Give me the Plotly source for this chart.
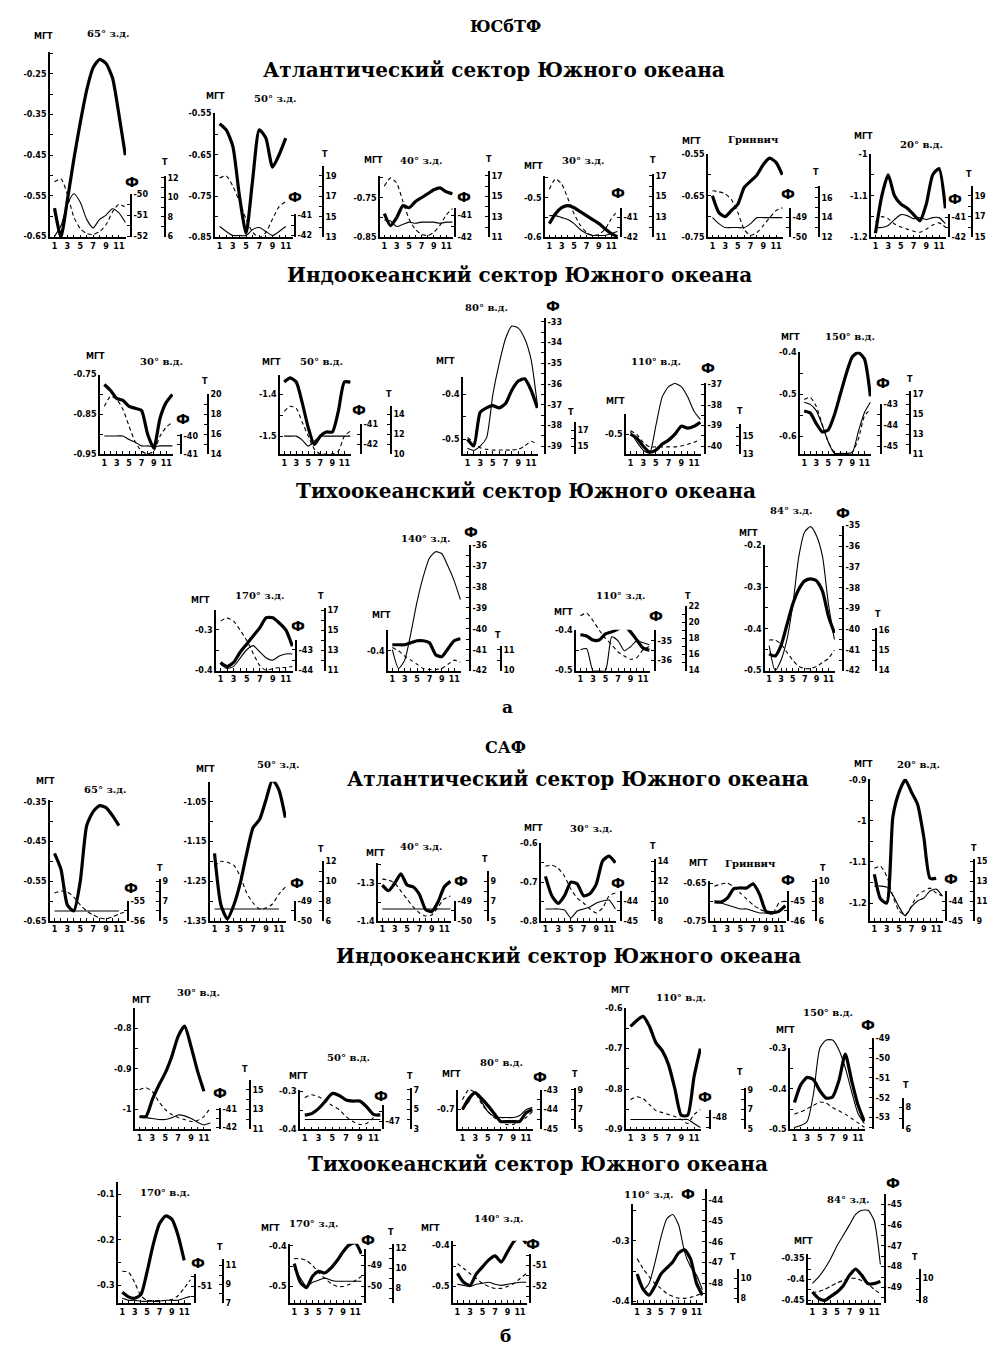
import plotly.graph_objects as go

W, H = 995, 1346
MONTHS = list(range(1, 13))
MONTH_TICKTEXT = ["1", "", "3", "", "5", "", "7", "", "9", "", "11", ""]

# ================= а : ЮСбТФ =================
ATL_A_TITLES = ["65° з.д.", "50° з.д.", "40° з.д.", "30° з.д.", "Гринвич", "20° в.д."]
ATL_A_MGT = [
    [-0.58, -0.65, -0.56, -0.46, -0.37, -0.29, -0.235, -0.215, -0.225, -0.26, -0.35, -0.45],
    [-0.575, -0.59, -0.63, -0.75, -0.84, -0.71, -0.59, -0.61, -0.68, -0.65, -0.61, None],
    [-0.79, -0.82, -0.80, -0.77, -0.775, -0.76, -0.75, -0.74, -0.73, -0.725, -0.735, -0.74],
    [-0.565, -0.54, -0.525, -0.52, -0.525, -0.535, -0.545, -0.555, -0.565, -0.578, -0.59, -0.598],
    [-0.65, -0.69, -0.70, -0.685, -0.67, -0.63, -0.615, -0.60, -0.575, -0.56, -0.57, -0.60],
    [-1.19, -1.10, -1.05, -1.10, -1.12, -1.13, -1.145, -1.16, -1.12, -1.05, -1.035, -1.13],
]
ATL_A_PHI = [
    [-52.0, -51.5, -50.5, -50.0, -50.4, -51.2, -51.6, -51.2, -51.0, -50.7, -50.9, -51.35],
    [-41.55, -41.8, -42.0, -42.0, -42.0, -41.7, -41.6, -41.8, -42.0, -41.8, -41.55, None],
    [-41.2, -41.25, -41.5, -41.4, -41.3, -41.35, -41.3, -41.3, -41.3, -41.35, -41.3, -41.3],
    [-40.9, -40.9, -41.0, -41.1, -41.3, -41.6, -41.8, -41.9, -41.9, -41.9, -41.8, -41.7],
    [-49.0, -49.3, -49.5, -49.5, -49.5, -49.5, -49.3, -49.0, -49.0, -49.0, -49.0, -49.0],
    [-41.5, -41.5, -41.4, -41.1, -40.85, -40.9, -41.05, -41.0, -41.1, -41.0, -41.0, -41.3],
]
ATL_A_T = [
    [11.6, 11.9, 10.3, 8.0, 6.8, 6.3, 6.2, 6.5, 7.2, 8.5, 9.3, 9.0],
    [18.8, 19.0, 18.0, 16.5, 14.8, 13.5, 13.0, 13.5, 14.8, 16.0, 16.5, None],
    [16.0, 16.8, 16.3, 14.5, 12.8, 11.8, 11.3, 11.2, 11.5, 12.2, 13.2, 13.8],
    [15.7, 16.7, 16.2, 14.8, 13.3, 12.2, 11.5, 11.2, 11.3, 11.8, 12.8, 13.6],
    [16.7, 16.6, 16.4, 15.8, 14.5, 12.8, 12.2, 12.5, 13.2, 14.0, 14.7, 15.0],
    [16.5, 17.0, 16.8, 16.3, 16.0, 15.8, 15.6, 15.5, 15.8, 16.2, 16.4, 16.0],
]
ATL_A_MGT_TICKS = [[-0.65, -0.55, -0.45, -0.35, -0.25], [-0.85, -0.75, -0.65, -0.55],
                   [-0.85, -0.75], [-0.6, -0.5], [-0.75, -0.65, -0.55], [-1.2, -1.1, -1.0]]
ATL_A_PHI_TICKS = [[-52, -51, -50], [-42, -41], [-42, -41], [-42, -41], [-50, -49], [-42, -41]]
ATL_A_T_TICKS = [[6, 8, 10, 12], [13, 15, 17, 19], [11, 13, 15, 17], [11, 13, 15, 17], [12, 14, 16], [15, 17, 19]]

IND_A_TITLES = ["30° в.д.", "50° в.д.", "80° в.д.", "110° в.д.", "150° в.д."]
IND_A_MGT = [
    [-0.775, -0.79, -0.81, -0.815, -0.83, -0.835, -0.84, -0.90, -0.935, -0.86, -0.82, -0.80],
    [-1.37, -1.36, -1.37, -1.42, -1.48, -1.52, -1.50, -1.49, -1.49, -1.44, -1.37, -1.37],
    [-0.50, -0.515, -0.44, -0.43, -0.425, -0.43, -0.42, -0.39, -0.37, -0.365, -0.39, -0.43],
    [-0.50, -0.51, -0.53, -0.545, -0.54, -0.525, -0.515, -0.50, -0.48, -0.485, -0.48, -0.47],
    [-0.54, -0.545, -0.57, -0.59, -0.585, -0.55, -0.50, -0.45, -0.41, -0.40, -0.415, -0.505],
]
IND_A_PHI = [
    [-40.0, -40.0, -40.0, -40.0, -40.2, -40.35, -40.55, -40.55, -40.6, -40.55, -40.55, -40.55],
    [-41.6, -41.6, -41.6, -41.8, -42.1, -41.85, -41.6, -41.6, -41.6, -41.6, -41.6, -41.6],
    [-39.1, -39.2, -39.0, -38.6, -36.5, -35.0, -33.8, -33.2, -33.3, -33.8, -34.8, -37.0],
    [-39.3, -39.8, -40.2, -40.35, -39.0, -37.6, -37.1, -36.95, -37.1, -37.6, -38.3, -38.7],
    [-42.9, -43.0, -43.3, -44.0, -44.8, -45.35, -45.35, -45.35, -45.3, -44.3, -43.4, -42.9],
]
IND_A_T = [
    [18.8, 19.8, 19.5, 18.5, 16.8, 15.2, 14.3, 14.0, 14.3, 15.8, 16.7, 17.2],
    [14.3, 14.8, 14.6, 13.2, 11.8, 10.5, 10.0, 10.0, 10.0, 10.3, 11.8, 12.3],
    [16.1, 15.5, 14.8, 14.6, 14.5, 14.5, 14.5, 14.5, 14.6, 15.0, 15.6, 15.2],
    [15.6, 15.2, 14.3, 13.8, 13.8, 13.8, 13.8, 13.8, 13.9, 14.1, 14.3, 14.6],
    [16.5, 16.7, 15.8, 14.0, 12.2, 11.2, 11.0, 11.0, 11.2, 12.5, 14.8, 15.5],
]
IND_A_MGT_TICKS = [[-0.95, -0.85, -0.75], [-1.5, -1.4], [-0.5, -0.4], [-0.5], [-0.6, -0.5, -0.4]]
IND_A_PHI_TICKS = [[-41, -40], [-42, -41], [-39, -38, -37, -36, -35, -34, -33], [-40, -39, -38, -37], [-45, -44, -43]]
IND_A_T_TICKS = [[14, 16, 18, 20], [10, 12, 14], [15, 17], [13, 15], [11, 13, 15, 17]]

PAC_A_TITLES = ["170° з.д.", "140° з.д.", "110° з.д.", "84° з.д."]
PAC_A_MGT = [
    [-0.38, -0.39, -0.38, -0.355, -0.335, -0.315, -0.295, -0.27, -0.27, -0.283, -0.30, -0.34],
    [-0.385, -0.385, -0.385, -0.38, -0.375, -0.375, -0.38, -0.41, -0.415, -0.395, -0.375, -0.37],
    [-0.412, -0.415, -0.425, -0.425, -0.41, -0.405, -0.398, -0.39, -0.405, -0.425, -0.445, -0.45],
    [-0.46, -0.465, -0.44, -0.39, -0.34, -0.305, -0.285, -0.28, -0.285, -0.31, -0.37, -0.41],
]
PAC_A_PHI = [
    [-43.7, -43.9, -43.8, -43.4, -43.0, -42.8, -43.1, -43.4, -43.5, -43.3, -43.2, -43.2],
    [-41.0, -41.9, -41.5, -40.2, -38.7, -37.5, -36.6, -36.3, -36.4, -37.0, -37.7, -38.6],
    [-35.45, -35.4, -36.5, -36.5, -36.5, -34.8, -35.0, -35.5, -35.3, -35.0, -35.1, -35.2],
    [-40.8, -42.0, -41.5, -40.5, -38.8, -36.5, -35.3, -35.05, -35.5, -36.5, -38.8, -40.5],
]
PAC_A_T = [
    [15.9, 16.2, 15.9, 15.0, 14.0, 12.7, 11.5, 11.0, 11.2, 11.3, 11.3, 11.4],
    [11.1, 10.95, 10.7, 10.5, 10.3, 10.1, 10.05, 10.05, 10.1, 10.3, 10.5, 10.4],
    [20.8, 21.1, 20.2, 19.0, 18.0, 17.2, 16.3, 15.8, 15.4, 15.6, 16.6, 17.0],
    [15.5, 15.5, 15.3, 14.9, 14.5, 14.2, 14.1, 14.1, 14.2, 14.4, 14.6, 15.0],
]
PAC_A_MGT_TICKS = [[-0.4, -0.3], [-0.4], [-0.5, -0.4], [-0.5, -0.4, -0.3, -0.2]]
PAC_A_PHI_TICKS = [[-44, -43], [-42, -41, -40, -39, -38, -37, -36], [-36, -35],
                   [-42, -41, -40, -39, -38, -37, -36, -35]]
PAC_A_T_TICKS = [[11, 13, 15, 17], [10, 11], [14, 16, 18, 20, 22], [14, 15, 16]]

# ================= б : САФ =================
ATL_B_TITLES = ["65° з.д.", "50° з.д.", "40° з.д.", "30° з.д.", "Гринвич", "20° в.д."]
ATL_B_MGT = [
    [-0.48, -0.52, -0.61, -0.625, -0.55, -0.41, -0.375, -0.36, -0.365, -0.385, -0.41, None],
    [-1.18, -1.31, -1.345, -1.31, -1.255, -1.18, -1.115, -1.095, -1.045, -0.995, -1.02, -1.09],
    [-1.305, -1.32, -1.30, -1.275, -1.305, -1.31, -1.33, -1.37, -1.375, -1.35, -1.31, -1.295],
    [-0.685, -0.735, -0.755, -0.735, -0.70, -0.705, -0.735, -0.73, -0.705, -0.645, -0.633, -0.65],
    [-0.70, -0.70, -0.69, -0.665, -0.663, -0.663, -0.652, -0.68, -0.725, -0.728, -0.725, -0.71],
    [-1.13, -1.19, -1.20, -0.99, -0.93, -0.90, -0.93, -0.96, -1.04, -1.14, -1.14, None],
]
ATL_B_PHI = [
    [-55.5, -55.5, -55.5, -55.5, -55.5, -55.5, -55.5, -55.5, -55.5, -55.5, -55.5, None],
    [-49.4, -49.4, -49.4, -49.4, -49.4, -49.4, -49.4, -49.4, -49.4, -49.4, -49.4, None],
    [-49.4, -49.4, -49.4, -49.4, -49.4, -49.4, -49.4, -49.4, -49.4, -49.4, -49.4, -49.4],
    [-44.4, -44.4, -44.4, -44.45, -44.85, -44.5, -44.4, -44.3, -44.1, -44.0, -43.95, -44.4],
    [-45.0, -45.1, -45.2, -45.3, -45.4, -45.4, -45.5, -45.6, -45.6, -45.65, -45.5, -45.3],
    [-43.25, -43.25, -43.3, -43.7, -44.3, -44.75, -44.3, -44.0, -43.85, -43.5, -43.4, -43.75],
]
ATL_B_T = [
    [7.8, 8.0, 7.9, 7.4, 6.6, 6.0, 5.6, 5.3, 5.2, 5.4, 5.7, 5.9],
    [11.5, 12.0, 11.9, 11.6, 10.5, 8.8, 7.8, 7.2, 7.3, 7.7, 8.7, 9.4],
    [9.2, 9.1, 8.8, 8.0, 7.2, 6.4, 5.8, 5.5, 5.6, 6.4, 7.2, 7.5],
    [13.5, 13.6, 13.3, 12.5, 11.2, 10.3, 9.8, 9.2, 8.8, 9.3, 10.5, 10.8],
    [9.5, 9.7, 9.8, 9.4, 8.8, 8.2, 7.6, 7.2, 6.9, 6.7, 7.8, 8.0],
    [14.3, 14.5, 13.5, 11.5, 10.0, 9.6, 10.5, 11.6, 12.0, 12.3, 11.8, 11.5],
]
ATL_B_MGT_TICKS = [[-0.65, -0.55, -0.45, -0.35], [-1.35, -1.25, -1.15, -1.05], [-1.4, -1.3],
                   [-0.8, -0.7, -0.6], [-0.75, -0.65], [-1.2, -1.1, -1.0, -0.9]]
ATL_B_PHI_TICKS = [[-56, -55], [-50, -49], [-50, -49], [-45, -44], [-46, -45], [-45, -44]]
ATL_B_T_TICKS = [[5, 7, 9], [6, 8, 10, 12], [5, 7, 9], [8, 10, 12, 14], [6, 8, 10], [9, 11, 13, 15]]

IND_B_TITLES = ["30° в.д.", "50° в.д.", "80° в.д.", "110° в.д.", "150° в.д."]
IND_B_MGT = [
    [-1.017, -1.017, -0.975, -0.94, -0.91, -0.87, -0.82, -0.795, -0.845, -0.905, -0.955, None],
    [-0.362, -0.358, -0.345, -0.325, -0.305, -0.31, -0.322, -0.325, -0.325, -0.34, -0.36, -0.362],
    [-0.70, -0.672, -0.658, -0.672, -0.69, -0.71, -0.73, -0.73, -0.73, -0.73, -0.708, -0.70],
    [-0.645, -0.63, -0.62, -0.645, -0.685, -0.705, -0.74, -0.80, -0.865, -0.865, -0.77, -0.70],
    [-0.434, -0.39, -0.372, -0.378, -0.405, -0.423, -0.42, -0.38, -0.315, -0.38, -0.44, -0.48],
]
IND_B_PHI = [
    [-41.4, -41.45, -41.5, -41.55, -41.55, -41.45, -41.3, -41.35, -41.5, -41.7, -41.85, -41.75],
    [-46.9, -46.9, -46.9, -46.9, -46.9, -46.9, -46.9, -46.9, -46.9, -46.9, -46.9, -46.9],
    [-44.0, -43.6, -43.1, -43.6, -44.1, -44.35, -44.4, -44.4, -44.4, -44.3, -44.0, -43.9],
    [-48.1, -48.1, -48.1, -48.1, -48.1, -48.1, -48.1, -48.1, -48.1, -48.1, -48.3, -48.5],
    [-53.5, -53.4, -53.2, -51.8, -49.5, -49.1, -49.1, -49.6, -50.5, -51.7, -52.8, -53.3],
]
IND_B_T = [
    [15.0, 15.2, 14.8, 13.8, 13.0, 12.5, 12.2, 12.0, 11.8, 11.9, 12.3, 13.2],
    [6.2, 6.5, 6.3, 5.9, 5.4, 5.0, 4.3, 3.8, 3.5, 3.6, 4.2, 4.7],
    [8.0, 9.0, 8.7, 7.6, 6.8, 6.2, 5.8, 5.5, 5.5, 5.8, 6.2, 6.8],
    [8.0, 8.3, 8.1, 7.5, 6.9, 6.7, 6.5, 6.3, 6.0, 5.6, 6.5, 7.0],
    [7.4, 7.6, 7.9, 8.2, 8.5, 8.4, 8.0, 7.7, 7.4, 7.0, 6.6, 6.2],
]
IND_B_MGT_TICKS = [[-1.0, -0.9, -0.8], [-0.4, -0.3], [-0.7], [-0.9, -0.8, -0.7, -0.6], [-0.5, -0.4, -0.3]]
IND_B_PHI_TICKS = [[-42, -41], [-47], [-45, -44, -43], [-48], [-53, -52, -51, -50, -49]]
IND_B_T_TICKS = [[11, 13, 15], [3, 5, 7], [5, 7, 9], [5, 7, 9], [6, 8]]

PAC_B_TITLES = ["170° в.д.", "170° з.д.", "140° з.д.", "110° з.д.", "84° з.д."]
PAC_B_MGT = [
    [-0.315, -0.325, -0.328, -0.32, -0.27, -0.21, -0.165, -0.148, -0.155, -0.19, -0.245, None],
    [-0.444, -0.49, -0.503, -0.475, -0.463, -0.467, -0.455, -0.437, -0.415, -0.398, -0.393, -0.42],
    [-0.468, -0.49, -0.498, -0.47, -0.452, -0.435, -0.425, -0.44, -0.415, -0.39, -0.378, -0.395],
    [-0.355, -0.38, -0.39, -0.375, -0.355, -0.345, -0.335, -0.32, -0.315, -0.33, -0.37, -0.39],
    [-0.43, -0.445, -0.45, -0.44, -0.43, -0.415, -0.39, -0.375, -0.39, -0.41, -0.41, -0.405],
]
PAC_B_PHI = [
    [-51.6, -51.7, -51.7, -51.75, -51.75, -51.75, -51.75, -51.7, -51.7, -51.7, -51.6, -51.5],
    [-49.15, -49.6, -50.0, -49.8, -49.7, -49.6, -49.7, -49.75, -49.75, -49.75, -49.75, -49.75],
    [-51.9, -51.95, -52.0, -51.9, -51.85, -51.8, -51.9, -51.95, -51.9, -51.85, -51.8, -51.8],
    [-47.7, -48.3, -48.0, -47.0, -45.8, -44.9, -44.7, -45.2, -46.5, -47.2, -47.6, -48.3],
    [-48.8, -48.5, -48.1, -47.6, -47.0, -46.5, -46.0, -45.5, -45.3, -45.3, -45.8, -47.9],
]
PAC_B_T = [
    [10.4, 10.3, 9.2, 7.8, 7.3, 7.3, 7.3, 7.3, 7.4, 7.8, 8.6, 9.5],
    [11.0, 11.0, 10.8, 10.3, 9.6, 9.0, 8.5, 8.2, 8.2, 8.4, 8.8, 9.2],
    [10.5, 10.0, 9.5, 9.0, 8.5, 8.2, 8.0, 8.0, 8.2, 8.5, 9.0, 9.5],
    [12.0, 11.0, 10.2, 9.5, 9.0, 8.5, 8.2, 8.0, 8.0, 8.1, 8.3, 8.5],
    [8.7, 8.8, 9.0, 9.3, 9.6, 9.8, 10.0, 10.0, 9.8, 9.5, 9.0, 8.6],
]
PAC_B_MGT_TICKS = [[-0.3, -0.2, -0.1], [-0.5, -0.4], [-0.5, -0.4], [-0.4, -0.3], [-0.45, -0.4, -0.35]]
PAC_B_PHI_TICKS = [[-51], [-50, -49], [-52, -51], [-48, -47, -46, -45, -44], [-49, -48, -47, -46, -45]]
PAC_B_T_TICKS = [[7, 9, 11], [8, 10, 12], [], [8, 10], [8, 10]]

HEADERS = [
    ("ЮСбТФ", 497, 15, 16), ("Атлантический сектор Южного океана", 486, 58, 20),
    ("Индоокеанский сектор Южного океана", 511, 265, 20), ("Тихоокеанский сектор Южного океана", 518, 482, 20),
    ("а", 500, 700, 17), ("САФ", 497, 740, 16), ("Атлантический сектор Южного океана", 570, 772, 20),
    ("Индоокеанский сектор Южного океана", 560, 950, 20), ("Тихоокеанский сектор Южного океана", 530, 1160, 20),
    ("б", 497, 1333, 17),
]


# ---------------- geometry (pixel placement of every panel) ----------------
def G(L, R, top, bot, mr, ph, t, labs):
    return dict(L=L, R=R, top=top, bot=bot, mr=mr, ph=ph, t=t, labs=labs)


ATL_A_GEOM = [
    G(42, 118, 40, 227, (-0.652, -0.196), (123, 183, 227, -52.05, -50.0), (157, 165, 227, 5.9, 12.2),
      [(35, 25), (100, 22), (124, 171), (157, 152)]),
    G(207, 285, 102, 227, (-0.85, -0.55), (287, 203, 227, -42.1, -40.9), (315, 155, 227, 13.0, 19.97),
      [(207, 85), (267, 87), (287, 186), (317, 143)]),
    G(372, 445, 165, 227, (-0.85, -0.695), (447, 197, 227, -42.0, -40.64), (481, 160, 227, 11.0, 17.48),
      [(365, 150), (413, 150), (456, 186), (481, 148)]),
    G(537, 610, 165, 227, (-0.6, -0.445), (613, 197, 227, -42.0, -40.5), (645, 163, 227, 11.0, 17.19),
      [(525, 156), (575, 150), (610, 182), (645, 150)]),
    G(700, 775, 143, 227, (-0.75, -0.55), (782, 197, 227, -50.0, -48.5), (811, 175, 227, 12.0, 17.2),
      [(683, 130), (745, 128), (780, 183), (808, 162)]),
    G(863, 938, 143, 227, (-1.2, -1.0), (941, 203, 227, -42.0, -40.8), (964, 175, 227, 15.0, 19.95),
      [(855, 125), (913, 133), (947, 188), (961, 164)]),
]
IND_A_GEOM = [
    G(92, 165, 365, 445, (-0.95, -0.75), (173, 425, 445, -41.0, -39.9), (200, 385, 445, 14.0, 20.0),
      [(87, 347), (153, 352), (175, 410), (197, 372)]),
    G(272, 343, 365, 445, (-1.543, -1.352), (353, 415, 445, -42.5, -41.0), (383, 397, 445, 10.0, 14.8),
      [(263, 353), (313, 352), (351, 401), (381, 385)]),
    G(455, 530, 367, 445, (-0.533, -0.36), (537, 308, 445, -39.38, -32.81), (567, 413, 445, 14.0, 18.0),
      [(437, 352), (478, 297), (545, 296), (563, 403)]),
    G(618, 693, 405, 445, (-0.55, -0.45), (697, 373, 445, -40.39, -36.9), (732, 415, 445, 13.0, 16.33),
      [(607, 392), (648, 352), (700, 358), (732, 402)]),
    G(792, 863, 342, 445, (-0.643, -0.398), (873, 395, 445, -45.38, -43.0), (902, 382, 445, 11.0, 17.3),
      [(782, 328), (842, 327), (875, 373), (902, 370)]),
]
PAC_A_GEOM = [
    G(208, 285, 602, 663, (-0.4, -0.251), (288, 632, 663, -44.0, -42.52), (317, 600, 663, 11.0, 17.2),
      [(192, 592), (252, 587), (290, 618), (313, 588)]),
    G(380, 453, 622, 663, (-0.45, -0.3475), (462, 537, 663, -42.0, -36.0), (493, 638, 663, 10.0, 11.19),
      [(373, 608), (417, 530), (463, 524), (490, 628)]),
    G(568, 642, 622, 663, (-0.5, -0.4), (647, 622, 663, -36.5, -34.45), (678, 598, 663, 14.0, 22.0),
      [(555, 605), (612, 587), (648, 608), (680, 588)]),
    G(757, 827, 537, 663, (-0.5, -0.2), (835, 517, 663, -42.0, -35.0), (868, 620, 663, 14.0, 16.1),
      [(740, 525), (783, 502), (835, 504), (870, 607)]),
]
ATL_B_GEOM = [
    G(42, 118, 793, 915, (-0.65, -0.345), (120, 895, 915, -56.0, -55.0), (152, 873, 915, 5.0, 9.2),
      [(37, 775), (97, 783), (123, 882), (152, 862)]),
    G(202, 278, 775, 915, (-1.35, -1.0), (287, 895, 915, -50.0, -49.0), (315, 855, 915, 6.0, 12.0),
      [(197, 763), (270, 758), (289, 877), (313, 843)]),
    G(370, 443, 857, 915, (-1.4, -1.247), (447, 895, 915, -50.0, -49.0), (480, 865, 915, 5.0, 10.0),
      [(367, 847), (413, 840), (453, 875), (477, 853)]),
    G(533, 608, 837, 915, (-0.8, -0.6), (613, 885, 915, -45.0, -43.5), (647, 853, 915, 8.0, 14.2),
      [(525, 822), (583, 822), (610, 877), (645, 840)]),
    G(702, 778, 875, 915, (-0.75, -0.645), (780, 885, 915, -46.0, -44.5), (808, 873, 915, 6.0, 10.2),
      [(690, 857), (742, 857), (780, 874), (815, 862)]),
    G(862, 935, 772, 915, (-1.2435, -0.8976), (938, 885, 915, -45.0, -43.5), (966, 853, 915, 9.0, 15.2),
      [(855, 758), (910, 758), (943, 873), (966, 842)]),
]
IND_B_GEOM = [
    G(127, 203, 1003, 1125, (-1.0488, -0.7512), (212, 1103, 1125, -42.11, -40.89), (242, 1075, 1125, 11.0, 16.0),
      [(133, 995), (190, 987), (212, 1088), (237, 1065)]),
    G(292, 373, 1085, 1125, (-0.4, -0.295), (375, 1100, 1125, -47.4, -46.15), (403, 1083, 1125, 3.0, 7.2),
      [(290, 1072), (340, 1053), (373, 1091), (402, 1072)]),
    G(450, 525, 1085, 1125, (-0.75, -0.65), (533, 1085, 1125, -45.0, -43.0), (567, 1083, 1125, 5.0, 9.2),
      [(443, 1070), (493, 1058), (532, 1072), (567, 1070)]),
    G(618, 693, 1003, 1125, (-0.9, -0.6), (702, 1105, 1125, -48.6, -47.6), (737, 1083, 1125, 5.0, 9.2),
      [(612, 985), (673, 992), (697, 1092), (732, 1068)]),
    G(782, 857, 1043, 1125, (-0.5, -0.3), (865, 1033, 1125, -53.6, -49.0), (895, 1093, 1125, 6.0, 8.9),
      [(777, 1025), (820, 1007), (860, 1020), (898, 1081)]),
]
PAC_B_GEOM = [
    G(110, 183, 1178, 1300, (-0.339, -0.074), (187, 1270, 1300, -51.85, -50.35), (215, 1255, 1300, 7.0, 11.74),
      [None, (157, 1188), (190, 1259), (212, 1244)]),
    G(282, 354, 1240, 1300, (-0.5415, -0.3951), (357, 1245, 1300, -50.81, -48.19), (385, 1240, 1300, 6.5, 12.5),
      [(262, 1225), (305, 1220), (360, 1236), (383, 1229)]),
    G(445, 519, 1237, 1300, (-0.5415, -0.388), (522, 1250, 1300, -52.81, -50.43), (555, 1240, 1300, 6.5, 12.5, False),
      [(422, 1225), (490, 1215), (525, 1240), None]),
    G(625, 695, 1200, 1300, (-0.4033, -0.2393), (698, 1185, 1300, -48.95, -43.48), (730, 1265, 1300, 7.5, 11.0),
      [None, (640, 1190), (680, 1190), (725, 1254)]),
    G(800, 873, 1250, 1300, (-0.457, -0.338), (877, 1190, 1300, -49.76, -44.52), (912, 1265, 1300, 7.73, 10.9),
      [(795, 1238), (840, 1195), (885, 1179), (907, 1254)]),
]

SECTIONS = [
    (ATL_A_TITLES, ATL_A_MGT, ATL_A_PHI, ATL_A_T, ATL_A_MGT_TICKS, ATL_A_PHI_TICKS, ATL_A_T_TICKS, ATL_A_GEOM),
    (IND_A_TITLES, IND_A_MGT, IND_A_PHI, IND_A_T, IND_A_MGT_TICKS, IND_A_PHI_TICKS, IND_A_T_TICKS, IND_A_GEOM),
    (PAC_A_TITLES, PAC_A_MGT, PAC_A_PHI, PAC_A_T, PAC_A_MGT_TICKS, PAC_A_PHI_TICKS, PAC_A_T_TICKS, PAC_A_GEOM),
    (ATL_B_TITLES, ATL_B_MGT, ATL_B_PHI, ATL_B_T, ATL_B_MGT_TICKS, ATL_B_PHI_TICKS, ATL_B_T_TICKS, ATL_B_GEOM),
    (IND_B_TITLES, IND_B_MGT, IND_B_PHI, IND_B_T, IND_B_MGT_TICKS, IND_B_PHI_TICKS, IND_B_T_TICKS, IND_B_GEOM),
    (PAC_B_TITLES, PAC_B_MGT, PAC_B_PHI, PAC_B_T, PAC_B_MGT_TICKS, PAC_B_PHI_TICKS, PAC_B_T_TICKS, PAC_B_GEOM),
]

# ---------------- build ----------------
TICKFONT = dict(family="DejaVu Sans", size=8, color="black", weight="bold")
AX = dict(showline=True, linecolor="black", linewidth=1.8, ticks="inside", ticklen=3, tickwidth=1.2,
          tickcolor="black", showgrid=False, zeroline=False, tickfont=TICKFONT, fixedrange=True)


def pyp(py):
    return 1 - py / H


def pxp(px):
    return px / W


def aid(letter, n):
    return letter if n == 1 else f"{letter}{n}"


def akey(letter, n):
    return f"{letter}axis" if n == 1 else f"{letter}axis{n}"


def tick_list(major, lo, hi, step):
    if not major:
        return [], []
    vals = []
    v = major[0]
    while v - step >= min(lo, hi) - 1e-9:
        v -= step
    while v <= max(lo, hi) + 1e-9:
        vals.append(round(v, 6))
        v += step
    text = [f"{x:g}" if any(abs(x - m) < 1e-6 for m in major) else "" for x in vals]
    return vals, text


layout = dict(width=W, height=H, margin=dict(l=0, r=0, t=0, b=0), autosize=False,
              paper_bgcolor="white", plot_bgcolor="rgba(0,0,0,0)", showlegend=False)
traces = []
annotations = []
counter = {"x": 0, "y": 0}


def new(letter):
    counter[letter] += 1
    return counter[letter]


def side_axis(spec, major, step, xi, g):
    x, atop, abot, lo, hi = spec[:5]
    show = spec[5] if len(spec) > 5 else True
    yb = new("y")
    vals, text = tick_list(major, lo, hi, step)
    layout[akey("y", yb)] = dict(AX, domain=[pyp(abot), pyp(atop)], range=[lo, hi], anchor="free",
                                 position=pxp(x), side="right", tickvals=vals, ticktext=text, visible=show)
    traces.append(go.Scatter(x=[None], y=[None], xaxis=aid("x", xi), yaxis=aid("y", yb),
                             mode="lines", hoverinfo="skip"))
    ut, ub = min(g["top"], atop), max(g["bot"], abot)
    k = (hi - lo) / (abot - atop)
    dlo, dhi = lo - (ub - abot) * k, hi + (atop - ut) * k
    yd = new("y")
    layout[akey("y", yd)] = dict(domain=[pyp(ub), pyp(ut)], range=[dlo, dhi], anchor="free",
                                 position=pxp(g["L"]), visible=False, fixedrange=True)
    return yd


def half_step(major, default):
    return (major[1] - major[0]) / 2 if len(major) >= 2 else default


def label(text, xy, font):
    annotations.append(dict(text=text, x=pxp(xy[0]), y=pyp(xy[1]), xref="paper", yref="paper",
                            xanchor="center", yanchor="middle", showarrow=False, font=font))


LABEL_FONT = dict(family="DejaVu Sans", size=8, color="black", weight="bold")
TITLE_FONT = dict(family="DejaVu Serif", size=10, color="black", weight="bold")
PHI_FONT = dict(family="DejaVu Sans", size=14, color="black", weight="bold")

for titles, mgt, phi, tt, mt, pt, ttk, geom in SECTIONS:
    for i, g in enumerate(geom):
        xi = new("x")
        ym = new("y")
        layout[akey("x", xi)] = dict(AX, domain=[pxp(g["L"]), pxp(g["R"])], range=[0.3, 12.1],
                                     anchor=aid("y", ym), tickvals=MONTHS, ticktext=MONTH_TICKTEXT)
        lo, hi = g["mr"]
        vals, text = tick_list(mt[i], lo, hi, half_step(mt[i], 0.05))
        layout[akey("y", ym)] = dict(AX, domain=[pyp(g["bot"]), pyp(g["top"])], range=[lo, hi],
                                     anchor=aid("x", xi), tickvals=vals, ticktext=text)
        yp = side_axis(g["ph"], pt[i], half_step(pt[i], 0.5), xi, g)
        yt = side_axis(g["t"], ttk[i], half_step(ttk[i], 1.0), xi, g)

        traces.append(go.Scatter(x=MONTHS, y=mgt[i], xaxis=aid("x", xi), yaxis=aid("y", ym), mode="lines",
                                 line=dict(color="black", width=3.2, shape="spline", smoothing=0.6),
                                 hoverinfo="skip"))
        traces.append(go.Scatter(x=MONTHS, y=phi[i], xaxis=aid("x", xi), yaxis=aid("y", yp), mode="lines",
                                 line=dict(color="black", width=1.1, shape="spline", smoothing=0.6),
                                 hoverinfo="skip"))
        traces.append(go.Scatter(x=MONTHS, y=tt[i], xaxis=aid("x", xi), yaxis=aid("y", yt), mode="lines",
                                 line=dict(color="black", width=1.1, dash="4px,3px", shape="spline",
                                           smoothing=0.6), hoverinfo="skip"))

        lm, lt, lp, ltt = g["labs"]
        if lm:
            label("МГТ", lm, LABEL_FONT)
        label(titles[i], lt, TITLE_FONT)
        label("Ф", lp, PHI_FONT)
        if ltt:
            label("T", ltt, LABEL_FONT)

for text, hx, hy, size in HEADERS:
    label(text, (hx, hy), dict(family="DejaVu Serif", size=size, color="black", weight="bold"))

layout["annotations"] = annotations
fig = go.Figure(data=traces, layout=layout)
fig.write_html("out.html")
